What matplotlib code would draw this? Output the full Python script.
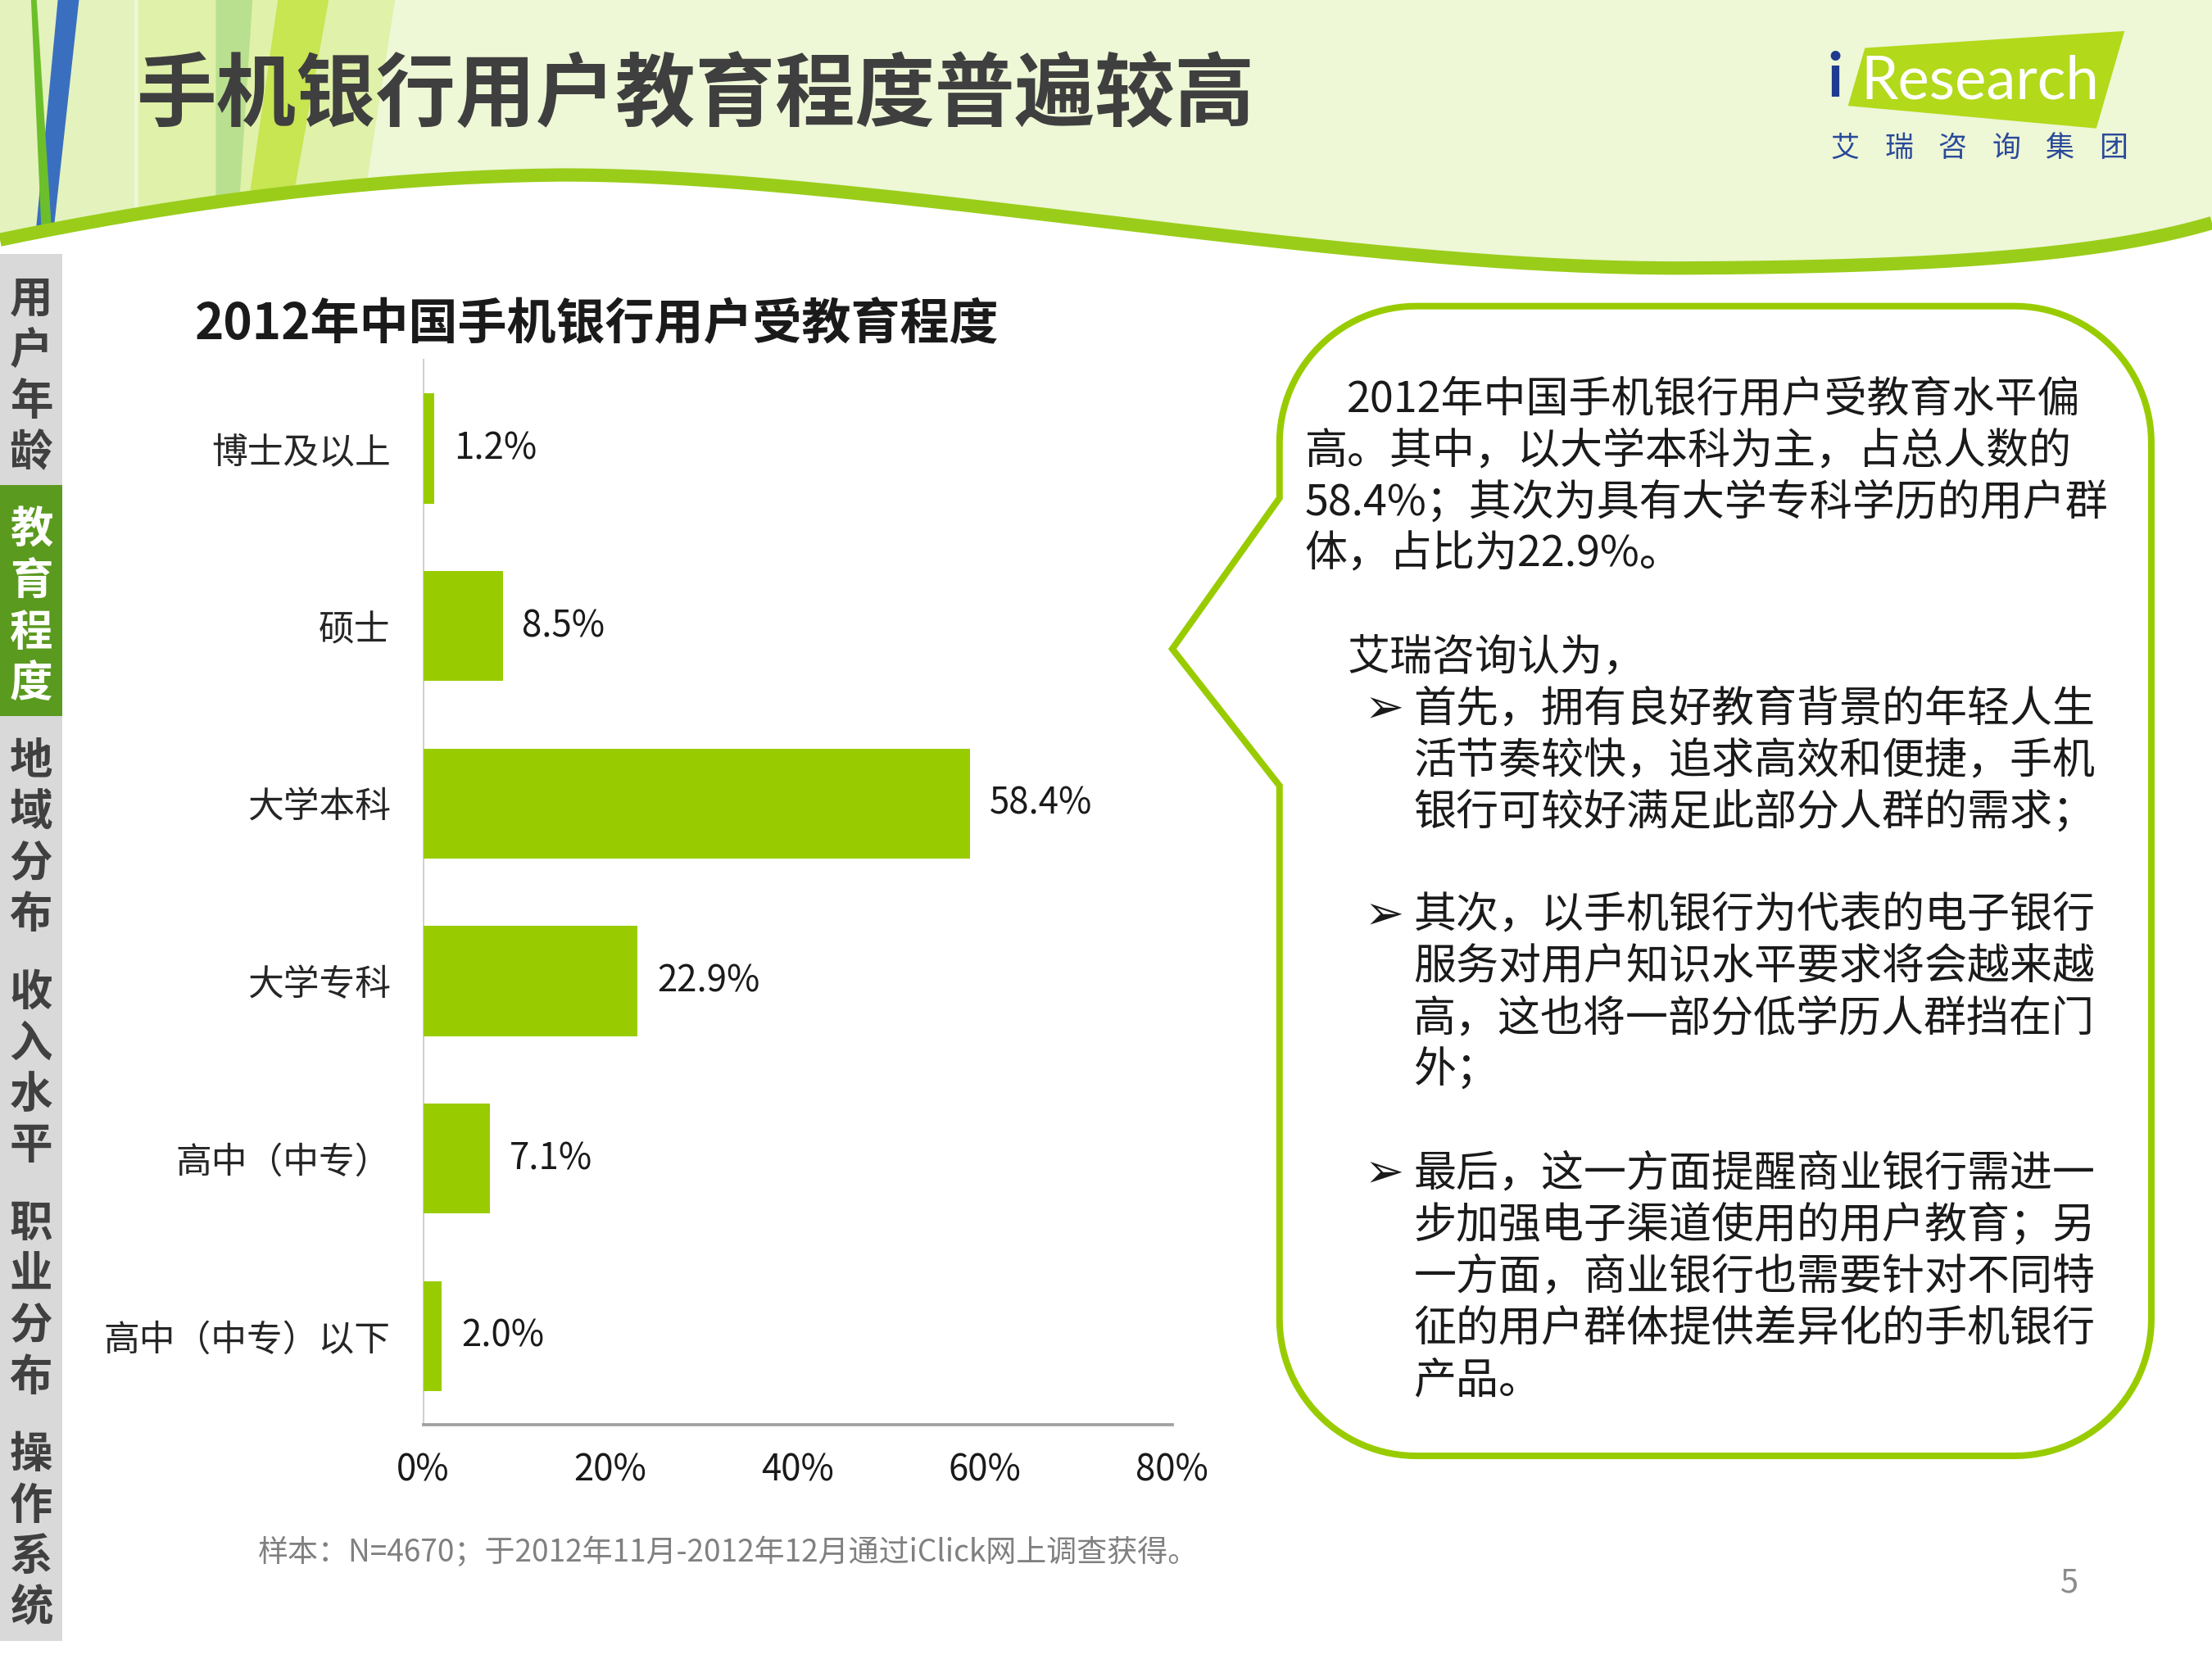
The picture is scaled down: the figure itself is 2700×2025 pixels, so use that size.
import numpy as np
import matplotlib.pyplot as plt
from matplotlib.patches import Polygon, Rectangle

plt.rcParams['font.family'] = ['Noto Sans CJK SC', 'DejaVu Sans']

# chart data
categories = ['博士及以上', '硕士', '大学本科', '大学专科', '高中（中专）', '高中（中专）以下']
shares = [1.2, 8.5, 58.4, 22.9, 7.1, 2.0]
x_ticks = [0, 20, 40, 60, 80]
x_tick_labels = ['0%', '20%', '40%', '60%', '80%']

nav_items = ['用户年龄', '教育程度', '地域分布', '收入水平', '职业分布', '操作系统']
nav_active = 1

intro_lines = ['2012年中国手机银行用户受教育水平偏',
               '高。其中，以大学本科为主，占总人数的',
               '58.4%；其次为具有大学专科学历的用户群',
               '体，占比为22.9%。']
lead_line = '艾瑞咨询认为，'
bullets = [
    ['首先，拥有良好教育背景的年轻人生', '活节奏较快，追求高效和便捷，手机', '银行可较好满足此部分人群的需求；'],
    ['其次，以手机银行为代表的电子银行', '服务对用户知识水平要求将会越来越', '高，这也将一部分低学历人群挡在门', '外；'],
    ['最后，这一方面提醒商业银行需进一', '步加强电子渠道使用的用户教育；另', '一方面，商业银行也需要针对不同特', '征的用户群体提供差异化的手机银行', '产品。'],
]

GREEN = '#99cc00'
W, H = 1568, 1176

fig = plt.figure(figsize=(15, 11.25), dpi=180)
bg = fig.add_axes([0, 0, 1, 1])
bg.set_xlim(0, W)
bg.set_ylim(H, 0)
bg.axis('off')


def bez(p0, p1, p2, p3, n=80):
    t = np.linspace(0, 1, n)[:, None]
    p0, p1, p2, p3 = map(np.array, (p0, p1, p2, p3))
    return (1 - t) ** 3 * p0 + 3 * (1 - t) ** 2 * t * p1 + 3 * (1 - t) * t ** 2 * p2 + t ** 3 * p3


# header background
bg.add_patch(Rectangle((0, 0), W, 260, color='#eef7d6', zorder=0))
stripes = [
    ([(0, 0), (95, 0), (95, 200), (0, 200)], '#e4f2bd'),
    ([(98, 0), (280, 0), (249, 200), (98, 200)], '#e0f1a9'),
    ([(153, 0), (179, 0), (166, 200), (153, 200)], '#b9e08f'),
    ([(197, 0), (233, 0), (197, 200), (168, 200)], '#c8e552'),
    ([(41, 0), (56, 0), (34, 200), (22, 200)], '#3a6fc0'),
    ([(22, 0), (26, 0), (39, 200), (31, 200)], '#6cbf2a'),
]
for pts, c in stripes:
    bg.add_patch(Polygon(pts, closed=True, color=c, lw=0, zorder=1))

curve = np.vstack([
    bez((0, 170), (120, 145), (260, 125), (400, 124)),
    bez((400, 124), (620, 124), (950, 192), (1200, 190)),
    bez((1200, 190), (1400, 189), (1500, 178), (W, 158)),
])
white_part = np.vstack([curve, [(W, 270), (0, 270)]])
bg.add_patch(Polygon(white_part, closed=True, color='white', lw=0, zorder=2))
bg.plot(curve[:, 0], curve[:, 1], color='#9acd1a', lw=6.5, solid_capstyle='butt', zorder=3)

# title
bg.text(97, 68, '手机银行用户教育程度普遍较高', fontsize=39, fontweight='bold',
        color='#3f3f3f', va='center', ha='left', zorder=5)

# logo
bg.add_patch(Polygon([(1322, 34), (1506, 22), (1486, 91), (1310, 75)], closed=True,
                     color='#b2d91a', lw=0, zorder=4))
bg.text(1301, 56, 'i', fontsize=30, fontweight='bold', color='#1f3b8f', family='Lato',
        va='center', ha='center', zorder=5)
bg.text(1319, 58, 'Research', fontsize=29, color='white', family='Lato',
        va='center', ha='left', zorder=5)
for k, ch in enumerate('艾瑞咨询集团'):
    bg.text(1308 + k * 38, 105, ch, fontsize=14, color='#2a4a9a',
            va='center', ha='center', zorder=5)

# side navigation
sec_top, sec_bot = 180, 1163
sec_h = (sec_bot - sec_top) / len(nav_items)
bg.add_patch(Rectangle((0, sec_top), 44, sec_bot - sec_top, color='#d9d9d9', lw=0, zorder=4))
for k, item in enumerate(nav_items):
    y0 = sec_top + k * sec_h
    tc = '#404040'
    if k == nav_active:
        bg.add_patch(Rectangle((0, y0), 44, sec_h, color='#5a9a1f', lw=0, zorder=4))
        tc = 'white'
    for j, ch in enumerate(item):
        bg.text(22, y0 + 32 + j * 36.3, ch, fontsize=21, fontweight='bold', color=tc,
                va='center', ha='center', zorder=5)

# chart subtitle
bg.text(138, 230, '2012年中国手机银行用户受教育程度', fontsize=24, fontweight='bold',
        color='#1a1a1a', va='center', ha='left', zorder=5)

# bar chart
ax = fig.add_axes([300 / W, 1 - 1010 / H, 531 / W, 755 / H])
ax.set_facecolor('none')
ypos = np.arange(len(categories))
ax.barh(ypos, shares, height=0.62, color=GREEN, zorder=3)
for y, v in zip(ypos, shares):
    ax.annotate(f'{v:.1f}%', xy=(v, y), xytext=(9.5, 0), textcoords='offset points',
                va='center', ha='left', fontsize=17.5, color='#1a1a1a')
ax.set_xlim(0, 80)
ax.set_ylim(len(categories) - 0.5, -0.5)
ax.set_xticks(x_ticks)
ax.set_xticklabels(x_tick_labels, fontsize=17.5, color='#1a1a1a')
ax.set_yticks(ypos)
ax.set_yticklabels(categories, fontsize=17.5, color='#262626')
ax.tick_params(axis='x', length=0, pad=13)
ax.tick_params(axis='y', length=0, pad=16)
for s in ['top', 'right']:
    ax.spines[s].set_visible(False)
ax.spines['left'].set_color('#d0d0d0')
ax.spines['left'].set_linewidth(0.8)
ax.spines['bottom'].set_color('#a0a0a0')
ax.spines['bottom'].set_linewidth(1.5)

# footnote and page number
bg.text(183, 1101, '样本：N=4670；于2012年11月-2012年12月通过iClick网上调查获得。',
        fontsize=14.8, color='#808080', va='center', ha='left', zorder=5)
bg.text(1467, 1122, '5', fontsize=16, color='#8c8c8c', va='center', ha='center', zorder=5)

# speech bubble
L, R, T, B, r = 907, 1525, 217, 1032, 97


def arc(cx, cy, a0, a1, n=30):
    a = np.radians(np.linspace(a0, a1, n))
    return np.column_stack([cx + r * np.cos(a), cy + r * np.sin(a)])


bubble = np.vstack([
    arc(L + r, T + r, 180, 270),
    arc(R - r, T + r, 270, 360),
    arc(R - r, B - r, 0, 90),
    arc(L + r, B - r, 90, 180),
    [(L, 557), (831, 460), (L, 353)],
])
bg.add_patch(Polygon(bubble, closed=True, facecolor='white', edgecolor=GREEN, lw=3.2,
                     joinstyle='miter', zorder=4))

lh = 36.7
for i, line in enumerate(intro_lines):
    bg.text(955 if i == 0 else 925, 283 + i * lh, line, fontsize=20.8, color='#1a1a1a',
            va='center', ha='left', zorder=5)
bg.text(955, 466, lead_line, fontsize=20.8, color='#1a1a1a', va='center', ha='left', zorder=5)
bullet_tops = [503, 649, 832]
for y0, lines in zip(bullet_tops, bullets):
    bg.text(981, y0, '➢', fontsize=23, color='#1a1a1a', family='DejaVu Sans',
            va='center', ha='center', zorder=5)
    for i, line in enumerate(lines):
        bg.text(1002, y0 + i * lh, line, fontsize=20.8, color='#1a1a1a',
                va='center', ha='left', zorder=5)

fig.savefig('out.png', dpi=180)
